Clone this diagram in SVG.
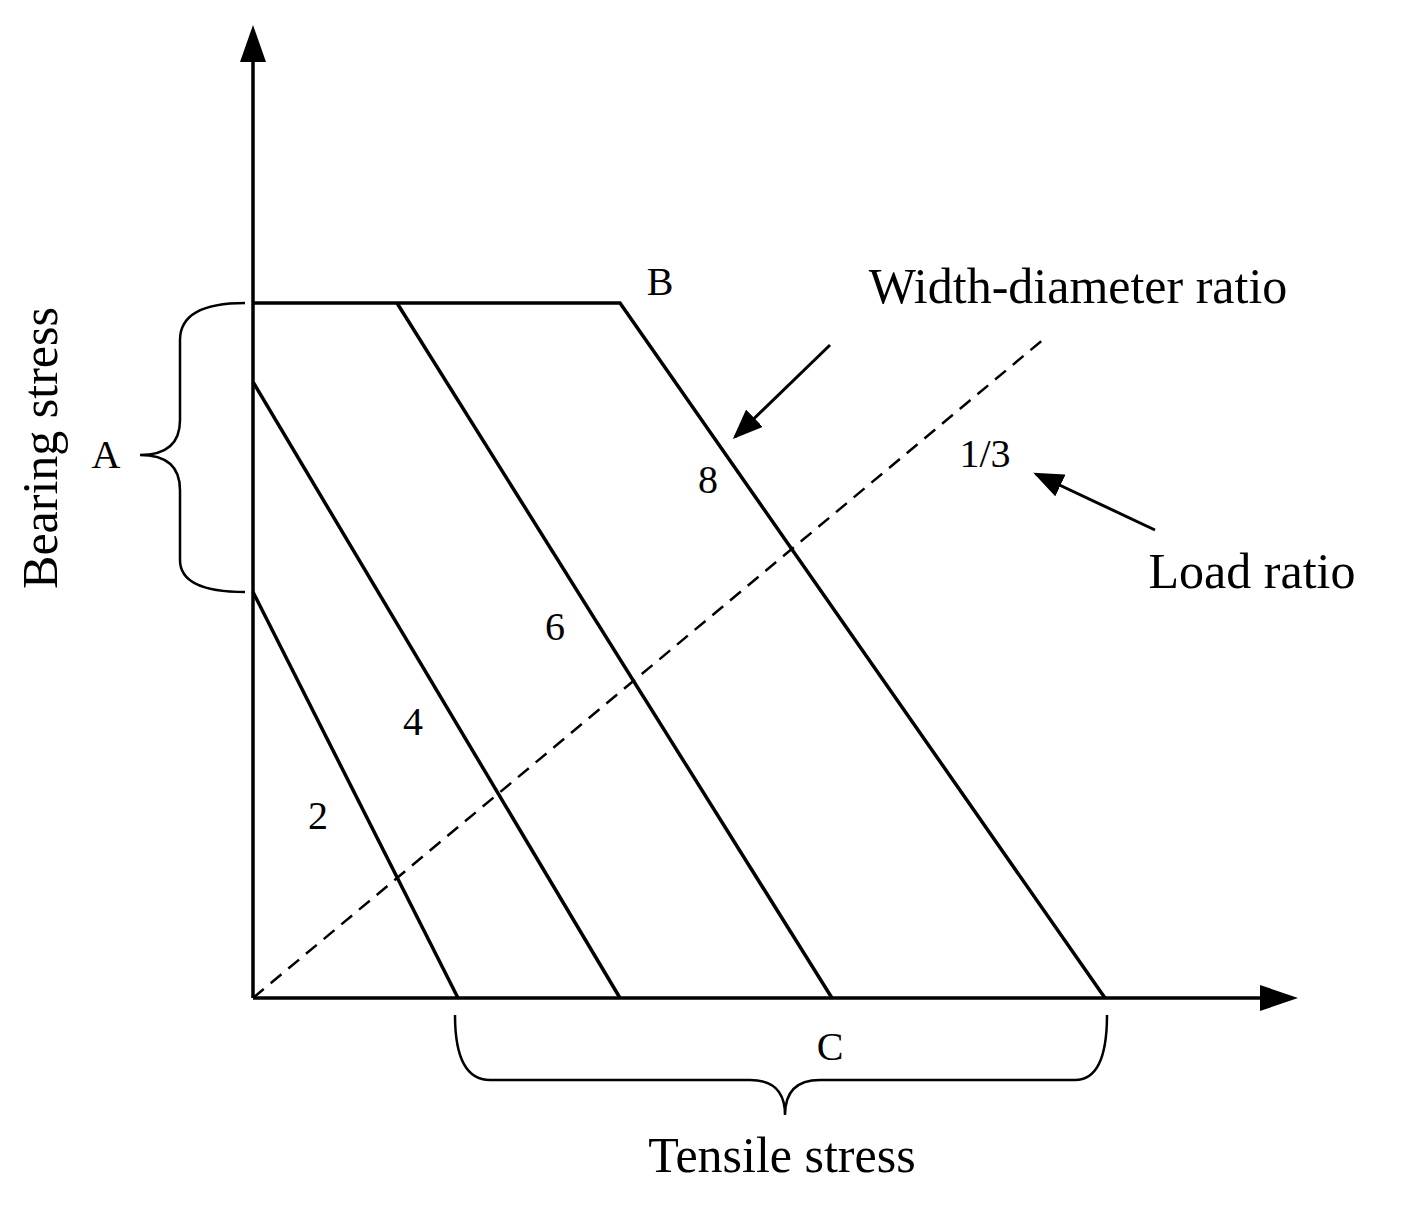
<svg xmlns="http://www.w3.org/2000/svg" width="1404" height="1208" viewBox="0 0 1404 1208">
<style>
.l{stroke:#000;stroke-width:3.5;fill:none}
.t{font-family:"Liberation Serif",serif;fill:#000;text-anchor:middle}
.s{font-size:40px}.b{font-size:50px}
</style>
<defs><marker id="ah" markerWidth="10" markerHeight="8" refX="9" refY="4" orient="auto" markerUnits="strokeWidth"><path d="M0,0L10,4L0,8z" fill="#000"/></marker></defs>
<rect width="1404" height="1208" fill="#fff"/>
<g id="axes">
<line class="l" x1="253" y1="998" x2="253" y2="60"/><path d="M253,25L240,62L266,62z"/>
<line class="l" x1="253" y1="998" x2="1262" y2="998"/><path d="M1298,998L1260,985L1260,1011z"/>
</g>
<g id="lines">
<line class="l" x1="253" y1="592" x2="458" y2="998"/>
<line class="l" x1="253" y1="382" x2="620" y2="998"/>
<line class="l" x1="397" y1="303" x2="832" y2="998"/>
<polyline class="l" points="253,303 620,303 1105,998"/>
<line class="l" x1="253" y1="998" x2="1045" y2="338" stroke-dasharray="14,9" style="stroke-width:2.5"/>
</g>
<g id="braces" class="l" style="stroke-width:2.5">
<path d="M245,303Q180,303 180,340L180,420Q180,455 140,455Q180,455 180,490L180,560Q180,592 245,592"/>
<path d="M455,1015Q455,1080 490,1080L750,1080Q785,1080 785,1115Q785,1080 820,1080L1075,1080Q1107,1080 1107,1015"/>
</g>
<g id="arrows" class="l" style="stroke-width:3">
<line x1="830" y1="345" x2="735" y2="437" marker-end="url(#ah)"/>
<line x1="1155" y1="530" x2="1036" y2="474" marker-end="url(#ah)"/>
</g>
<g id="labels">
<text class="t s" x="660" y="295">B</text>
<text class="t b" x="1078" y="303">Width-diameter ratio</text>
<text class="t s" x="708" y="493">8</text>
<text class="t s" x="985" y="467">1/3</text>
<text class="t b" x="1252" y="588">Load ratio</text>
<text class="t s" x="555" y="640">6</text>
<text class="t s" x="413" y="735">4</text>
<text class="t s" x="318" y="829">2</text>
<text class="t s" x="106" y="468">A</text>
<text class="t s" x="830" y="1060">C</text>
<text class="t b" x="782" y="1172">Tensile stress</text>
<text class="t b" transform="translate(57,448) rotate(-90)">Bearing stress</text>
</g>
</svg>
